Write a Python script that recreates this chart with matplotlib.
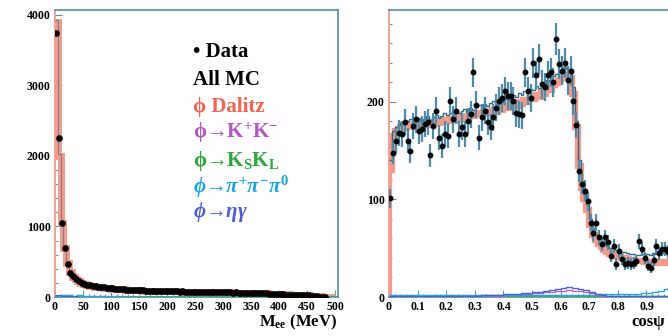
import numpy as np
import matplotlib
matplotlib.use("Agg")
import matplotlib.pyplot as plt
from matplotlib.ticker import MultipleLocator, FuncFormatter

plt.rcParams['font.family'] = ['Liberation Serif', 'DejaVu Serif']
plt.rcParams['font.weight'] = 'bold'
plt.rcParams['mathtext.fontset'] = 'custom'
plt.rcParams['mathtext.rm'] = 'Liberation Serif:bold'
plt.rcParams['mathtext.it'] = 'Liberation Serif:bold:italic'
plt.rcParams['mathtext.bf'] = 'Liberation Serif:bold'

# ---- left panel: M_ee, 5 MeV bins from 0 to 500 ----
mee_range = (0, 500)
mee_data = [3750, 2250, 1050, 700, 470, 340, 300, 260, 230, 205,
            190, 175, 165, 160, 150, 145, 140, 135, 130, 125,
            125, 120, 115, 115, 110, 105, 105, 100, 100, 95,
            95, 95, 90, 90, 90, 85, 85, 85, 80, 85,
            80, 80, 80, 80, 75, 80, 75, 75, 75, 75,
            75, 75, 70, 75, 70, 70, 70, 70, 65, 70,
            65, 65, 65, 60, 65, 60, 60, 60, 55, 60,
            55, 55, 55, 50, 50, 50, 45, 45, 45, 40,
            40, 40, 35, 35, 35, 30, 30, 35, 30, 25,
            25, 20, 15, 10, 5, 3, 1, 0, 0, 0]
mee_dalitz = [3900, 2000, 1050, 690, 480, 350, 290, 250, 220, 200,
              185, 172, 162, 155, 148, 142, 137, 132, 128, 124,
              120, 117, 114, 111, 108, 105, 103, 100, 98, 96,
              94, 92, 90, 89, 88, 86, 85, 84, 83, 82,
              81, 80, 79, 78, 78, 77, 76, 76, 75, 74,
              74, 73, 72, 72, 71, 70, 70, 69, 68, 68,
              67, 66, 65, 64, 63, 62, 61, 60, 59, 58,
              57, 56, 55, 53, 52, 50, 49, 47, 46, 44,
              42, 41, 39, 37, 35, 33, 31, 29, 27, 25,
              22, 19, 16, 12, 8, 5, 2, 1, 0, 0]
# small backgrounds, 10 MeV bins
mee_pipipi = [15, 30, 25, 20, 30, 15, 20, 10, 15, 10,
              8, 5, 5, 5, 3, 3, 3, 2, 2, 2,
              2, 2, 2, 2, 2, 2, 2, 2, 2, 2,
              2, 2, 2, 2, 2, 2, 2, 2, 2, 2,
              2, 2, 2, 2, 2, 2, 2, 2, 2, 2]
mee_etagamma = [25, 15, 10, 8, 6, 5, 4, 3, 3, 2,
                2, 2, 2, 2, 2, 2, 2, 2, 2, 2,
                1, 1, 1, 1, 1, 1, 1, 1, 1, 1,
                1, 1, 1, 1, 1, 1, 1, 1, 1, 1,
                1, 1, 1, 1, 1, 1, 1, 1, 1, 1]
mee_kskl = [6] * 50

# ---- right panel: cos psi, 0.01 bins from 0 to 1 ----
cos_range = (0, 1)
cos_data = [101, 148, 160, 168, 167, 179, 160, 150, 175, 182,
            170, 172, 177, 179, 145, 175, 191, 163, 155, 167,
            165, 201, 182, 191, 167, 174, 167, 180, 187, 230,
            197, 163, 184, 191, 179, 174, 184, 194, 201, 204,
            211, 206, 206, 201, 188, 187, 186, 230, 211, 204,
            240, 227, 244, 218, 215, 227, 230, 220, 264, 239,
            232, 240, 222, 232, 201, 176, 129, 116, 109, 98,
            76, 66, 76, 61, 54, 61, 56, 42, 52, 34,
            47, 39, 34, 35, 34, 35, 37, 57, 49, 40,
            32, 30, 38, 52, 45, 49, 49, 46, 44, 47]
cos_mc = [140, 170, 174, 176, 179, 177, 180, 182, 179, 181,
          183, 180, 182, 185, 181, 184, 186, 183, 185, 188,
          186, 189, 187, 190, 188, 191, 193, 190, 194, 192,
          195, 197, 194, 198, 196, 199, 201, 198, 202, 200,
          203, 205, 202, 207, 205, 209, 207, 211, 209, 213,
          212, 216, 214, 219, 217, 222, 221, 226, 228, 231,
          233, 236, 234, 232, 215, 180, 140, 118, 106, 95,
          80, 70, 64, 60, 57, 54, 52, 50, 49, 48,
          47, 46, 46, 45, 44, 44, 43, 43, 44, 43,
          44, 43, 45, 44, 46, 45, 47, 46, 48, 47]
cos_dalitz = [130, 165, 170, 172, 174, 173, 175, 176, 174, 176,
              177, 175, 177, 179, 176, 178, 180, 178, 179, 181,
              180, 182, 181, 183, 182, 184, 185, 183, 186, 185,
              187, 189, 187, 190, 189, 191, 192, 190, 194, 192,
              195, 196, 194, 198, 196, 200, 198, 202, 200, 204,
              203, 207, 205, 210, 208, 213, 212, 217, 219, 222,
              224, 227, 226, 224, 208, 174, 134, 112, 100, 89,
              74, 64, 58, 54, 51, 48, 46, 44, 43, 42,
              41, 40, 40, 39, 38, 38, 37, 37, 37, 36,
              36, 35, 36, 35, 36, 35, 36, 35, 36, 35]
# small backgrounds, 0.02 bins
cos_etagamma = [1, 1, 1, 1, 1, 1, 1, 1, 1, 1,
                1, 1, 1, 1, 1, 1, 2, 2, 2, 2,
                3, 3, 3, 4, 4, 5, 5, 6, 7, 8,
                9, 10, 9, 8, 7, 5, 3, 2, 1, 1,
                1, 1, 1, 1, 1, 1, 1, 1, 1, 1]
cos_kk = [0, 0, 0, 0, 0, 0, 0, 0, 0, 0,
          0, 0, 0, 0, 0, 0, 0, 1, 1, 1,
          2, 2, 2, 3, 3, 4, 4, 5, 5, 6,
          6, 7, 6, 6, 5, 4, 2, 1, 0, 0,
          0, 0, 0, 0, 0, 0, 0, 0, 0, 0]
cos_pipipi = [2, 2, 2, 2, 2, 2, 2, 2, 2, 2,
              2, 2, 2, 2, 2, 2, 2, 2, 2, 2,
              2, 2, 2, 2, 2, 2, 2, 2, 2, 2,
              2, 2, 2, 2, 2, 2, 3, 3, 3, 3,
              3, 3, 3, 3, 4, 4, 5, 6, 8, 10]
cos_kskl = [1] * 50

# colours
c_frame = '#5d97ad'
c_mc = '#2e6c84'
c_dalitz = '#f39a8c'
c_err = '#4f8aa8'
c_kk = '#c060c8'
c_kskl = '#36b44a'
c_pipipi = '#1fa8e2'
c_etagamma = '#4a62d2'


def edges(rng, vals):
    return np.linspace(rng[0], rng[1], len(vals) + 1)


def style_axes(ax):
    for s in ax.spines.values():
        s.set_color(c_frame)
        s.set_linewidth(1.3)
    ax.tick_params(which='both', direction='in', top=False, right=False,
                   colors=c_frame, labelcolor='black', labelsize=8.5, pad=3)
    ax.tick_params(which='major', length=5, width=0.8)
    ax.tick_params(which='minor', length=2.5, width=0.8)
    for lab in ax.get_xticklabels() + ax.get_yticklabels():
        lab.set_fontweight('bold')


def cos_fmt(v, p):
    if abs(v) < 1e-9:
        return '0'
    if v > 0.95:
        return ''  # 1 falls outside the picture
    return '%.1f' % v


fig = plt.figure(figsize=(6.68, 3.36), dpi=100)
axL = fig.add_axes([55 / 668, 1 - 297 / 336, 283 / 668, 287 / 336])
axR = fig.add_axes([389 / 668, 1 - 297 / 336, 286 / 668, 287 / 336])

# left panel
e5 = edges(mee_range, mee_data)
c5 = 0.5 * (e5[1:] + e5[:-1])
e10 = edges(mee_range, mee_kskl)
mee_total = np.array(mee_dalitz) + np.repeat(np.array(mee_pipipi) + np.array(mee_etagamma) + np.array(mee_kskl), 2) / 2
axL.stairs(mee_dalitz, e5, color=c_dalitz, lw=5, baseline=None, zorder=2)
axL.stairs(mee_total, e5, color=c_mc, lw=0.8, baseline=None, zorder=3, alpha=0.6)
axL.stairs(mee_kskl, e10, color=c_kskl, lw=1.2, baseline=None, zorder=3)
axL.stairs(mee_pipipi, e10, color=c_pipipi, lw=1.0, baseline=None, zorder=3)
axL.stairs(mee_etagamma, e10, color=c_etagamma, lw=0.8, baseline=None, zorder=3)
md = np.array(mee_data, dtype=float)
keep = md > 0
axL.plot(c5[keep], md[keep], 'o', color='black', ms=3.8, zorder=5)
axL.set_xlim(0, 505)
axL.set_ylim(0, 4070)
axL.xaxis.set_major_locator(MultipleLocator(50))
axL.xaxis.set_minor_locator(MultipleLocator(10))
axL.yaxis.set_major_locator(MultipleLocator(1000))
axL.yaxis.set_minor_locator(MultipleLocator(200))
style_axes(axL)
axL.spines['left'].set_color(c_dalitz)

# right panel
e1 = edges(cos_range, cos_data)
c1 = 0.5 * (e1[1:] + e1[:-1])
e2 = edges(cos_range, cos_kskl)
axR.stairs(cos_dalitz, e1, color=c_dalitz, lw=4.5, baseline=0, zorder=2)
axR.stairs(cos_kskl, e2, color=c_kskl, lw=1.0, baseline=None, zorder=3)
axR.stairs(cos_kk, e2, color=c_kk, lw=1.0, baseline=None, zorder=3)
axR.stairs(cos_pipipi, e2, color=c_pipipi, lw=1.0, baseline=None, zorder=3)
axR.stairs(cos_etagamma, e2, color=c_etagamma, lw=1.0, baseline=None, zorder=3)
axR.stairs(cos_mc, e1, color=c_mc, lw=1.0, baseline=None, zorder=3)
cd = np.array(cos_data, dtype=float)
axR.errorbar(c1, cd, yerr=np.sqrt(cd), fmt='o', color='black', ms=3.2,
             ecolor=c_err, elinewidth=1.6, capsize=0, zorder=5)
axR.set_xlim(0, 1.0)
axR.set_ylim(0, 294)
axR.xaxis.set_major_locator(MultipleLocator(0.1))
axR.xaxis.set_minor_locator(MultipleLocator(0.02))
axR.yaxis.set_major_locator(MultipleLocator(100))
axR.yaxis.set_minor_locator(MultipleLocator(20))
axR.xaxis.set_major_formatter(FuncFormatter(cos_fmt))
style_axes(axR)
axR.spines['left'].set_color(c_dalitz)

# axis titles
fig.text(337 / 668, 1 - 322 / 336, r'M$_{\mathrm{ee}}$ (MeV)', ha='right', va='center',
         fontsize=12, fontweight='bold')
fig.text(631 / 668, 1 - 322 / 336, 'cosψ', ha='left', va='center',
         fontsize=12, fontweight='bold')

# legend texts
leg = [
    ('• Data', 'black', 52, 'normal'),
    ('All MC', 'black', 80, 'normal'),
    ('ϕ Dalitz', '#f2644f', 107, 'normal'),
    (r'ϕ→K$^{+}$K$^{-}$', '#b456c2', 133, 'normal'),
    (r'ϕ→K$_{\mathrm{S}}$K$_{\mathrm{L}}$', '#2aa83a', 161, 'normal'),
    (r'ϕ→$\pi^{+}\pi^{-}\pi^{0}$', '#18a4e0', 187, 'italic'),
    (r'ϕ→$\eta\gamma$', '#4a5ed2', 212, 'italic'),
]
for txt, col, ypix, st in leg:
    fig.text(193 / 668, 1 - ypix / 336, txt, color=col, fontsize=15,
             fontweight='bold', style=st, ha='left', va='center')

fig.savefig('out.png', dpi=100)
